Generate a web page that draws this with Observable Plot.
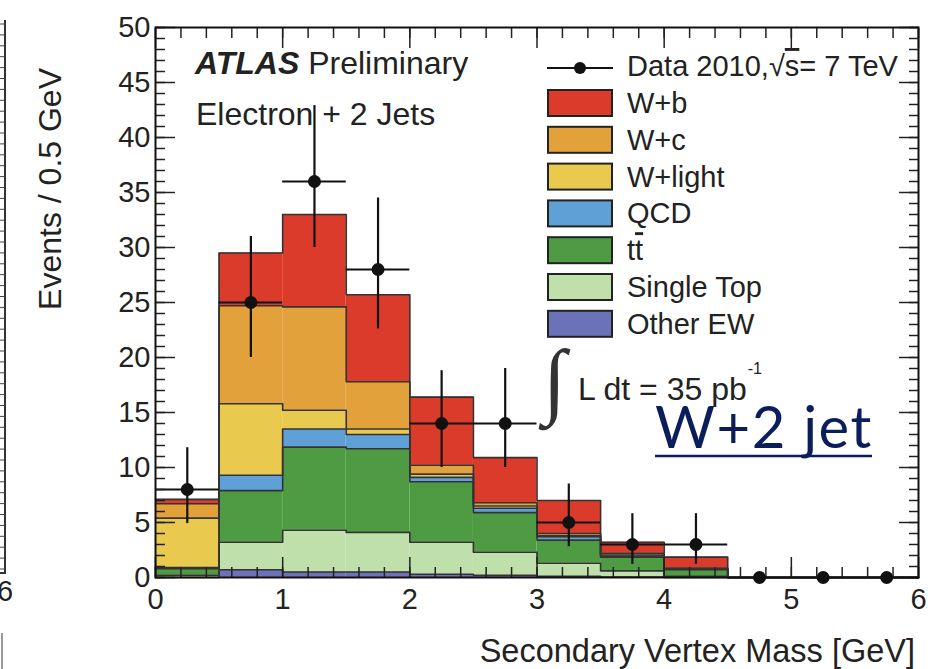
<!DOCTYPE html>
<html><head><meta charset="utf-8">
<script src="https://cdn.jsdelivr.net/npm/d3@7"></script>
<script src="https://cdn.jsdelivr.net/npm/@observablehq/plot@0.6"></script>
<style>
html,body{margin:0;padding:0;background:#fff;}
#wrap{position:relative;width:944px;height:669px;overflow:hidden;}
#wrap svg{position:absolute;left:0;top:0;}
</style></head><body><div id="wrap"></div>
<script>
// ---- data ----
const binLo = [0, 0.5, 1, 1.5, 2, 2.5, 3, 3.5, 4, 4.5, 5, 5.5];
const binWidth = 0.5;
const seriesNames = ["Other EW", "Single Top", "ttbar", "QCD", "W+light", "W+c", "W+b"];
const seriesColors = ["#6c72b8", "#bfe0aa", "#4f9b44", "#5fa1d7", "#e9ca4e", "#e3a13c", "#da3b2b"];
const otherEW   = [0,   0.7, 0.5,  0.5, 0.3, 0.2, 0.1, 0.05, 0,    0, 0, 0];
const singleTop = [0.2, 2.5, 3.8,  3.6, 2.9, 2.1, 1.2, 0.55, 0.1,  0, 0, 0];
const ttbar     = [0.6, 4.7, 7.55, 7.6, 5.5, 3.6, 2.1, 1.25, 0.6,  0, 0, 0];
const qcd       = [0.1, 1.4, 1.65, 1.3, 0.4, 0.4, 0.3, 0.1,  0.05, 0, 0, 0];
const wLight    = [4.5, 6.5, 1.7,  0.5, 0.3, 0.2, 0.1, 0.1,  0.05, 0, 0, 0];
const wC        = [1.3, 8.9, 9.4,  4.3, 0.8, 0.3, 0.2, 0.15, 0.05, 0, 0, 0];
const wB        = [0.4, 4.8, 8.4,  7.9, 6.2, 4.1, 3.0, 1.0,  1.0,  0, 0, 0];
const seriesValues = [otherEW, singleTop, ttbar, qcd, wLight, wC, wB];

const dataValues = [8,   25, 36,   28,   14,   14, 5,   3,   3,   0, 0, 0];
const dataErrLo  = [4.9, 20, 30,   22.6, 10,   10, 2.8, 1.2, 1.2, 0, 0, 0];
const dataErrHi  = [11.8,31, 42.9, 34.5, 18.8, 19, 8.5, 5.8, 5.8, 0, 0, 0];

const xTicks = [0, 1, 2, 3, 4, 5, 6];
const yTicks = [0, 5, 10, 15, 20, 25, 30, 35, 40, 45, 50];
const xMinor = d3.range(0, 6.0001, 0.2);
const yMinor = d3.range(0, 50.001, 1);

const legendLabels = ["W+b", "W+c", "W+light", "QCD", "tt\u0304", "Single Top", "Other EW"];
const legendColors = ["#da3b2b", "#e3a13c", "#e9ca4e", "#5fa1d7", "#4f9b44", "#bfe0aa", "#6c72b8"];

// ---- derived tables ----
const rects = [], steps = [];
const cum = binLo.map(() => 0);
seriesNames.forEach((s, i) => {
  binLo.forEach((x, j) => {
    const v = seriesValues[i][j];
    rects.push({series: s, x1: x, x2: x + binWidth, y1: cum[j], y2: cum[j] + v});
    cum[j] += v;
  });
  binLo.forEach((x, j) => steps.push({series: s, x, y: cum[j]}));
  steps.push({series: s, x: binLo[binLo.length - 1] + binWidth, y: cum[binLo.length - 1]});
});
const points = binLo.map((x, j) => ({x: x + binWidth / 2, x1: x, x2: x + binWidth, y: dataValues[j], lo: dataErrLo[j], hi: dataErrHi[j]}));

const FONT = "Liberation Sans, Arial, Helvetica, sans-serif";
const chart = Plot.plot({
  width: 944, height: 669,
  marginLeft: 155, marginRight: 26, marginTop: 27, marginBottom: 92,
  x: {domain: [0, 6]},
  y: {domain: [0, 50]},
  color: {domain: seriesNames, range: seriesColors},
  style: {fontFamily: FONT, fontSize: "29px", color: "#222", background: "transparent", overflow: "visible"},
  marks: [
    Plot.rect(rects, {x1: "x1", x2: "x2", y1: "y1", y2: "y2", fill: "series"}),
    Plot.line(steps, {x: "x", y: "y", z: "series", curve: "step-after", stroke: "#333", strokeWidth: 1.6}),
    Plot.ruleX(points.filter(d => d.hi > 0), {x: "x", y1: "lo", y2: "hi", stroke: "#111", strokeWidth: 2.2}),
    Plot.ruleY(points.filter(d => d.y > 0), {y: "y", x1: "x1", x2: "x2", stroke: "#111", strokeWidth: 2.2}),
    Plot.dot(points, {x: "x", y: "y", r: 6.5, fill: "#111"}),
    Plot.axisX({anchor: "bottom", ticks: xTicks, tickSize: -20, tickPadding: 31, tickFormat: d => String(d), label: null, strokeWidth: 1.5}),
    Plot.axisX({anchor: "bottom", ticks: xMinor, tickSize: -10, tickFormat: () => "", label: null, strokeWidth: 1.5}),
    Plot.axisX({anchor: "top", ticks: xTicks, tickSize: -20, tickFormat: () => "", label: null, strokeWidth: 1.5}),
    Plot.axisX({anchor: "top", ticks: xMinor, tickSize: -10, tickFormat: () => "", label: null, strokeWidth: 1.5}),
    Plot.axisY({anchor: "left", ticks: yTicks, tickSize: -20, tickPadding: 25, tickFormat: d => String(d), label: null, strokeWidth: 1.5}),
    Plot.axisY({anchor: "left", ticks: yMinor, tickSize: -10, tickFormat: () => "", label: null, strokeWidth: 1.5}),
    Plot.axisY({anchor: "right", ticks: yTicks, tickSize: -20, tickFormat: () => "", label: null, strokeWidth: 1.5}),
    Plot.axisY({anchor: "right", ticks: yMinor, tickSize: -10, tickFormat: () => "", label: null, strokeWidth: 1.5}),
    Plot.frame({stroke: "#111", strokeWidth: 2})
  ]
});
const wrap = document.getElementById("wrap");
wrap.appendChild(chart);

// ---- annotation overlay ----
const ov = d3.create("svg").attr("width", 944).attr("height", 669)
  .attr("font-family", FONT).attr("fill", "#222");

// neighbouring panel fragment at left edge
ov.append("line").attr("x1", 5).attr("x2", 5).attr("y1", 20).attr("y2", 574).attr("stroke", "#333").attr("stroke-width", 2);
ov.append("line").attr("x1", 0).attr("x2", 5).attr("y1", 573).attr("y2", 573).attr("stroke", "#333").attr("stroke-width", 2);
ov.append("g").selectAll("line").data(yMinor).join("line")
  .attr("x1", 0).attr("x2", 5).attr("y1", (d, i) => 24 + i * 10.9).attr("y2", (d, i) => 24 + i * 10.9)
  .attr("stroke", "#444").attr("stroke-width", 1);
ov.append("text").attr("x", 5).attr("y", 601).attr("text-anchor", "middle").attr("font-size", 29).text("6");
ov.append("line").attr("x1", 2).attr("x2", 2).attr("y1", 633).attr("y2", 669).attr("stroke", "#777").attr("stroke-width", 1.5);

// labels inside frame
const t1 = ov.append("text").attr("x", 195).attr("y", 74).attr("font-size", 32);
t1.append("tspan").attr("font-weight", "bold").attr("font-style", "italic").text("ATLAS");
t1.append("tspan").text(" Preliminary");
ov.append("text").attr("x", 196).attr("y", 125).attr("font-size", 32).text("Electron + 2 Jets");

// legend
ov.append("line").attr("x1", 547).attr("x2", 613).attr("y1", 68).attr("y2", 68).attr("stroke", "#111").attr("stroke-width", 2);
ov.append("circle").attr("cx", 580).attr("cy", 68).attr("r", 6).attr("fill", "#111");
const dl = ov.append("text").attr("x", 627).attr("y", 76).attr("font-size", 29);
dl.append("tspan").text("Data 2010,\u221A");
dl.append("tspan").attr("text-decoration", "overline").text("s");
dl.append("tspan").text("= 7 TeV");
legendLabels.forEach((lab, i) => {
  const top = 90 + i * 36.8;
  ov.append("rect").attr("x", 548).attr("y", top).attr("width", 64).attr("height", 26)
    .attr("fill", legendColors[i]).attr("stroke", "#222").attr("stroke-width", 2);
  const tx = ov.append("text").attr("x", 627).attr("y", top + 23).attr("font-size", 29);
  if (lab.startsWith("tt")) {
    tx.append("tspan").text("t");
    tx.append("tspan").attr("text-decoration", "overline").text("t");
  } else tx.text(lab);
});

// luminosity
ov.append("text").attr("x", 543).attr("y", 408).attr("font-size", 84).attr("font-family", "Liberation Serif, serif").attr("fill", "#333").text("\u222B");
const lum = ov.append("text").attr("x", 578).attr("y", 400).attr("font-size", 32);
lum.append("tspan").text("L dt = 35 pb");
lum.append("tspan").attr("font-size", 16).attr("dx", 1).attr("dy", -26).text("-1");

// W+2 jet
ov.append("text").attr("x", 655).attr("y", 448).attr("font-size", 58).attr("letter-spacing", 1.5).attr("font-family", "Lato, sans-serif").attr("fill", "#0b1e5b").text("W+2 jet");
ov.append("line").attr("x1", 655).attr("x2", 872).attr("y1", 456).attr("y2", 456).attr("stroke", "#0b1e5b").attr("stroke-width", 2.5);

// axis titles
ov.append("text").attr("transform", "translate(61,68) rotate(-90)").attr("text-anchor", "end").attr("font-size", 32).text("Events / 0.5 GeV");
ov.append("text").attr("x", 915).attr("y", 662).attr("text-anchor", "end").attr("font-size", 32.5).text("Secondary Vertex Mass [GeV]");

wrap.appendChild(ov.node());
</script></body></html>
